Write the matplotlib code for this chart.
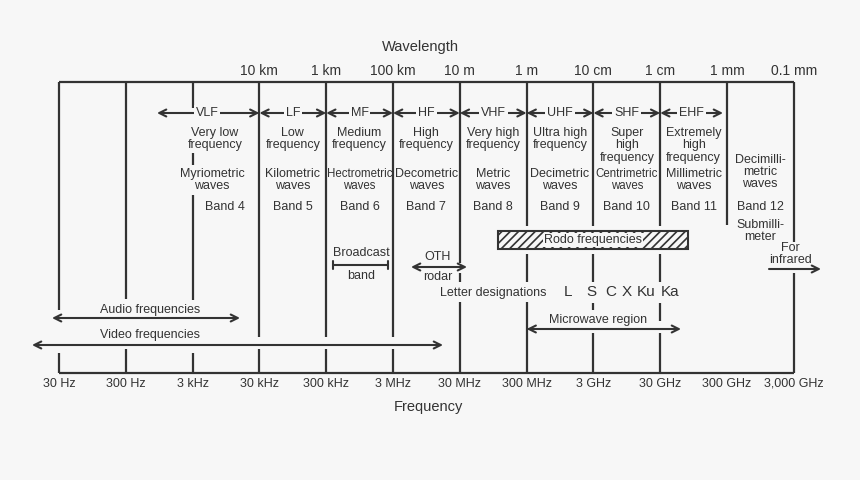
import numpy as np
import matplotlib.pyplot as plt
from matplotlib.patches import Rectangle

plt.rcParams['font.family'] = 'Liberation Sans'
plt.rcParams['hatch.linewidth'] = 1.2

BG = '#f7f7f7'
INK = '#333333'

# ---- data ----
freq_hz = [30, 300, 3e3, 30e3, 300e3, 3e6, 30e6, 300e6, 3e9, 30e9, 300e9, 3000e9]
freq_labels = ['30 Hz', '300 Hz', '3 kHz', '30 kHz', '300 kHz', '3 MHz', '30 MHz',
               '300 MHz', '3 GHz', '30 GHz', '300 GHz', '3,000 GHz']
wave_freq = [30e3, 300e3, 3e6, 30e6, 300e6, 3e9, 30e9, 300e9, 3000e9]
wave_labels = ['10 km', '1 km', '100 km', '10 m', '1 m', '10 cm', '1 cm', '1 mm', '0.1 mm']
band_names = ['VLF', 'LF', 'MF', 'HF', 'VHF', 'UHF', 'SHF', 'EHF']
band_desc = ['Very low\nfrequency', 'Low\nfrequency', 'Medium\nfrequency', 'High\nfrequency',
             'Very high\nfrequency', 'Ultra high\nfrequency', 'Super\nhigh\nfrequency',
             'Extremely\nhigh\nfrequency']
band_waves = ['Myriometric\nwaves', 'Kilometric\nwaves', 'Hectrometric\nwaves', 'Decometric\nwaves',
              'Metric\nwaves', 'Decimetric\nwaves', 'Centrimetric\nwaves', 'Millimetric\nwaves']
band_numbers = ['Band 4', 'Band 5', 'Band 6', 'Band 7', 'Band 8', 'Band 9', 'Band 10', 'Band 11']
letters = ['L', 'S', 'C', 'X', 'Ku', 'Ka']


# pixel column -> log10(Hz)
def px(p):
    return np.log10(30) + (p - 59) / 66.8


fig = plt.figure(figsize=(8.6, 4.8), dpi=100, facecolor=BG)
ax = fig.add_axes([0, 0, 1, 1])
ax.set_facecolor(BG)
ax.set_xlim(px(0), px(860))
ax.set_ylim(480, 0)
ax.axis('off')

lx = np.log10(freq_hz)
kw = dict(color=INK, lw=1.6, solid_capstyle='butt')

# frame
ax.plot([lx[0], lx[-1]], [82, 82], **kw)
ax.plot([lx[0], lx[-1]], [373, 373], **kw)

# vertical segments per frequency line
segments = [
    [(82, 310), (353, 373)],
    [(82, 299), (349, 373)],
    [(82, 108), (153, 165), (195, 300), (353, 373)],
    [(82, 337), (349, 373)],
    [(82, 337), (349, 373)],
    [(82, 337), (349, 373)],
    [(82, 263), (273, 282), (302, 373)],
    [(82, 226), (254, 282), (302, 373)],
    [(82, 226), (254, 282), (303, 310), (333, 373)],
    [(82, 226), (254, 282), (303, 321), (333, 373)],
    [(82, 225)],
    [(82, 242), (273, 373)],
]
for x, segs in zip(lx, segments):
    for y0, y1 in segs:
        ax.plot([x, x], [y0, y1], **kw)

fs = 9
for x, lab in zip(lx, freq_labels):
    ax.text(x, 384, lab, ha='center', va='center', fontsize=fs, color=INK)
for f, lab in zip(wave_freq, wave_labels):
    ax.text(np.log10(f), 71, lab, ha='center', va='center', fontsize=10, color=INK)
ax.text(px(420), 47, 'Wavelength', ha='center', va='center', fontsize=10.5, color=INK)
ax.text(px(428), 407, 'Frequency', ha='center', va='center', fontsize=10.5, color=INK)


def arrow(x0, x1, y, style='<->'):
    ax.annotate('', xy=(x1, y), xytext=(x0, y),
                arrowprops=dict(arrowstyle=style + ',head_length=0.5,head_width=0.25',
                                color=INK, lw=1.5, shrinkA=0, shrinkB=0))


# band arrows
edges = list(lx[3:11])
lefts = [px(157)] + edges[:-1]
rights = edges
for i, name in enumerate(band_names):
    l, r = lefts[i], rights[i]
    if i == len(band_names) - 1:
        r = px(723)
    arrow(l, r, 113)
    cx = (l + r) / 2 if i else px(207)
    ax.text(cx, 113, name, ha='center', va='center', fontsize=fs, color=INK,
            bbox=dict(boxstyle='square,pad=0.15', fc=BG, ec='none'))
    cx = (edges[i - 1] + edges[i]) / 2 if i else px(215)
    ax.text(cx, 127, band_desc[i], ha='center', va='top', fontsize=fs, color=INK,
            linespacing=1.05)
    ax.text(cx if i else px(212), 180, band_waves[i], ha='center', va='center',
            fontsize=8.3 if i in (2, 6) else fs, color=INK, linespacing=1.05)
    ax.text(cx if i else px(225), 207, band_numbers[i], ha='center', va='center',
            fontsize=fs, color=INK)

cx12 = px(760)
ax.text(cx12, 172, 'Decimilli-\nmetric\nwaves', ha='center', va='center', fontsize=fs,
        color=INK, linespacing=1.05)
ax.text(cx12, 207, 'Band 12', ha='center', va='center', fontsize=fs, color=INK)
ax.text(cx12, 231, 'Submilli-\nmeter', ha='center', va='center', fontsize=fs, color=INK,
        linespacing=1.05)

# broadcast band
ax.text(px(361), 253, 'Broadcast', ha='center', va='center', fontsize=fs, color=INK)
ax.annotate('', xy=(px(388), 265), xytext=(px(333), 265),
            arrowprops=dict(arrowstyle='|-|,widthA=0.3,widthB=0.3', color=INK, lw=1.5,
                            shrinkA=0, shrinkB=0))
ax.text(px(361), 276, 'band', ha='center', va='center', fontsize=fs, color=INK)

# OTH radar
arrow(px(411), px(467), 267)
ax.text(px(438), 257, 'OTH', ha='center', va='center', fontsize=fs, color=INK)
ax.text(px(438), 277, 'rodar', ha='center', va='center', fontsize=fs, color=INK)

# rodo frequencies box
ax.add_patch(Rectangle((px(498), 231), px(688) - px(498), 18, fc=BG, ec=INK, lw=1.5,
                       hatch='////'))
ax.text(px(593), 240, 'Rodo frequencies', ha='center', va='center', fontsize=fs, color=INK,
        bbox=dict(boxstyle='square,pad=0.05', fc=BG, ec='none'))

# letter designations
ax.text(px(493), 293, 'Letter designations', ha='center', va='center', fontsize=fs, color=INK)
letter_px = [568, 591, 611, 627, 646, 670]
for p, lab in zip(letter_px, letters):
    ax.text(px(p), 292, lab, ha='center', va='center', fontsize=11, color=INK)

# microwave region
ax.text(px(598), 320, 'Microwave region', ha='center', va='center', fontsize=fs, color=INK)
arrow(lx[7], px(681), 329)

# infrared
ax.text(px(790), 254, 'For\ninfrared', ha='center', va='center', fontsize=fs, color=INK,
        linespacing=1.05)
arrow(px(769), px(821), 269, '->')

# audio / video
ax.text(px(150), 310, 'Audio frequencies', ha='center', va='center', fontsize=fs, color=INK)
arrow(px(52), px(240), 318)
ax.text(px(150), 335, 'Video frequencies', ha='center', va='center', fontsize=fs, color=INK)
arrow(px(32), px(443), 345)

fig.savefig('out.png', dpi=100, facecolor=BG)
